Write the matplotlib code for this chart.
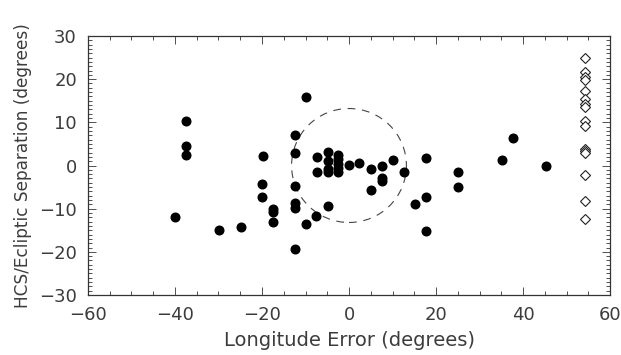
import matplotlib
matplotlib.use("Agg")
import matplotlib.pyplot as plt
from matplotlib.patches import Circle
from matplotlib.ticker import MultipleLocator

# filled dots: longitude error vs HCS/ecliptic separation
lon_err = [-37.5, -37.5, -37.5, -39.9, -29.8, -24.9, -19.8, -20.0, -20.0,
           -17.5, -17.5, -17.5, -12.4, -12.3, -12.4, -12.4, -12.4, -12.3,
           -10.0, -10.0, -7.3, -7.4, -7.5, -4.8, -4.8, -4.8, -4.8, -4.9,
           -2.5, -2.5, -2.5, -2.5, -2.5, 0.0, 2.4, 5.1, 5.1, 7.5, 7.5, 7.5,
           10.0, 12.6, 15.1, 17.6, 17.6, 17.7, 25.1, 25.1, 35.2, 37.6, 45.3]
separation = [10.2, 4.5, 2.5, -12.0, -15.0, -14.2, 2.2, -4.3, -7.2,
              -10.0, -10.8, -13.2, 7.0, 2.8, -4.7, -8.8, -9.9, -19.4,
              15.9, -13.6, 1.9, -1.6, -11.8, 3.2, 1.1, -0.9, -1.6, -9.3,
              2.4, 1.4, 0.4, -0.5, -1.5, 0.1, 0.5, -0.9, -5.6, -0.2, -2.9, -3.6,
              1.2, -1.4, -9.0, 1.8, -7.2, -15.1, -1.5, -4.9, 1.2, 6.3, 0.0]

# open diamonds: cases without a longitude error, plotted at the right edge
no_err_x = 54.3
no_err_sep = [24.9, 21.6, 20.5, 19.8, 17.3, 15.3, 14.3, 13.6, 10.3, 9.1,
              3.9, 3.3, 2.9, -2.3, -8.3, -12.3]

circle_center = (0.0, 0.0)
circle_radius = 13.2

txt = "#3c3c3c"
plt.rcParams['font.family'] = ['DejaVu Sans']

fig = plt.figure(figsize=(6.21, 3.55), dpi=100)
ax = fig.add_axes([0.1417, 0.169, 0.8406, 0.7296])

ax.plot(lon_err, separation, "o", color="black", markersize=6.2, zorder=3)
ax.plot([no_err_x] * len(no_err_sep), no_err_sep, "D", markerfacecolor="white",
        markeredgecolor="#222222", markeredgewidth=0.8, markersize=5.5, zorder=3)

ax.add_patch(Circle(circle_center, circle_radius, fill=False, edgecolor="#444444",
                    linewidth=0.8, linestyle=(0, (7, 6))))

ax.set_xlim(-60, 60)
ax.set_ylim(-30, 30)
ax.xaxis.set_major_locator(MultipleLocator(20))
ax.xaxis.set_minor_locator(MultipleLocator(5))
ax.yaxis.set_major_locator(MultipleLocator(10))
ax.yaxis.set_minor_locator(MultipleLocator(1))
ax.tick_params(which="both", direction="in", top=True, right=True,
               color="#333333", width=0.6)
ax.tick_params(which="major", length=6, labelsize=13, labelcolor=txt, pad=8)
ax.tick_params(which="minor", length=3)
for s in ax.spines.values():
    s.set_linewidth(0.9)
    s.set_color("#333333")

ax.set_xlabel("Longitude Error (degrees)", fontsize=14, color=txt, labelpad=5)
ax.set_ylabel("HCS/Ecliptic Separation (degrees)", fontsize=12.2, color=txt,
              labelpad=5)

fig.savefig("out.png", dpi=100)
